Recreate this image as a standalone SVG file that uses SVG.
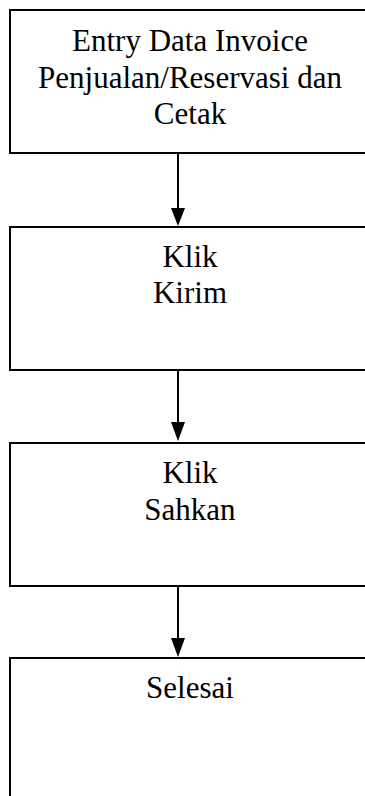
<svg xmlns="http://www.w3.org/2000/svg" width="365" height="796" viewBox="0 0 365 796">
<style>
.box{fill:#fff;stroke:#000;stroke-width:2}
.t{font-family:"Liberation Serif","Times New Roman",serif;font-size:31px;fill:#000;text-anchor:middle}
.c{stroke:#000;stroke-width:2;fill:none}
.ah{fill:#000}
</style>
<rect width="365" height="796" fill="#fff"/>
<g id="connectors">
<line class="c" x1="178" y1="153" x2="178" y2="208"/>
<path class="ah" d="M171,208 L185,208 L178,226 Z"/>
<line class="c" x1="178" y1="370" x2="178" y2="422"/>
<path class="ah" d="M171,422 L185,422 L178,441 Z"/>
<line class="c" x1="178" y1="586" x2="178" y2="638"/>
<path class="ah" d="M171,638 L185,638 L178,657 Z"/>
</g>
<g id="n1">
<rect class="box" x="10" y="10" width="370" height="143"/>
<text class="t" x="190" y="51">Entry Data Invoice</text>
<text class="t" x="190" y="87.5">Penjualan/Reservasi dan</text>
<text class="t" x="190" y="124">Cetak</text>
</g>
<g id="n2">
<rect class="box" x="10" y="227" width="370" height="143"/>
<text class="t" x="190" y="267">Klik</text>
<text class="t" x="190" y="303">Kirim</text>
</g>
<g id="n3">
<rect class="box" x="10" y="443" width="370" height="143"/>
<text class="t" x="190" y="483">Klik</text>
<text class="t" x="190" y="520">Sahkan</text>
</g>
<g id="n4">
<rect class="box" x="10" y="658" width="370" height="160"/>
<text class="t" x="190" y="698">Selesai</text>
</g>
</svg>
